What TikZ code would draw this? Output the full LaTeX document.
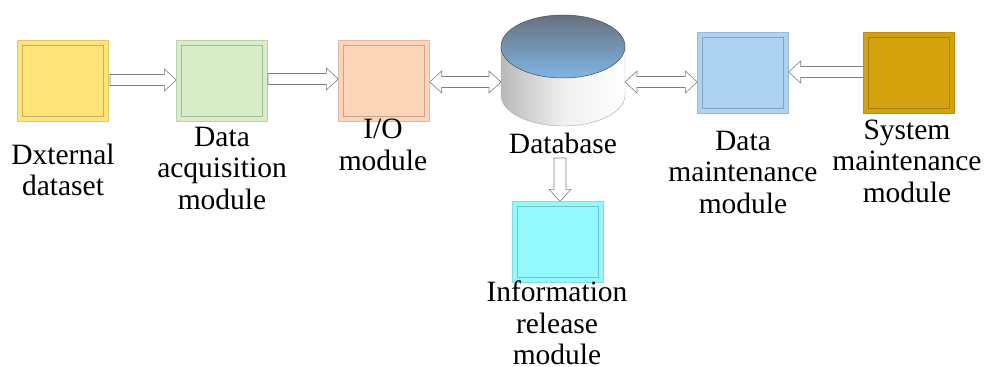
\documentclass[tikz,border=0pt]{standalone}
\usepackage{fontspec}
\setmainfont{Liberation Serif}[Ligatures=TeX]
\newfontfamily\labelfont{Liberation Serif}
\usetikzlibrary{calc}

\definecolor{cYellow}{HTML}{FFE47A}
\definecolor{cGreen}{HTML}{D6EDC8}
\definecolor{cOrange}{HTML}{FCD5B8}
\definecolor{cBlue}{HTML}{AED3F2}
\definecolor{cGold}{HTML}{D4A20C}
\definecolor{cCyan}{HTML}{94F9FC}
\definecolor{cArrow}{HTML}{7F7F7F}
\definecolor{cTopDark}{HTML}{67717E}
\definecolor{cTopLight}{HTML}{80B5E5}

\tikzset{
  modbox/.style={rectangle, minimum width=91pt, minimum height=81pt, inner sep=0pt,
    fill=#1, draw=#1!88!black, line width=0.4pt,
    path picture={\draw[#1!78!black, line width=0.45pt]
      ([shift={(5pt,-5pt)}]path picture bounding box.north west) rectangle
      ([shift={(-5pt,5pt)}]path picture bounding box.south east);}},
  lbl/.style={align=center, inner sep=0pt, font=\labelfont\fontsize{29.5}{31.5}\selectfont},
  blockarr/.style={draw=cArrow, fill=white, line width=0.6pt, line join=miter}
}

% horizontal block arrow pointing right, drawn at the height of the first point
\newcommand\rightblock[2]{%
  \draw[blockarr] let \p1=(#1), \p2=(#2) in
    (\x1,{\y1+5.5pt}) -- ({\x2-12pt},{\y1+5.5pt}) -- ({\x2-12pt},{\y1+11pt}) --
    (\x2,\y1) -- ({\x2-12pt},{\y1-11pt}) -- ({\x2-12pt},{\y1-5.5pt}) --
    (\x1,{\y1-5.5pt}) -- cycle;}
% horizontal block arrow pointing left
\newcommand\leftblock[2]{%
  \draw[blockarr] let \p1=(#1), \p2=(#2) in
    (\x1,{\y1+5.5pt}) -- ({\x2+12pt},{\y1+5.5pt}) -- ({\x2+12pt},{\y1+11pt}) --
    (\x2,\y1) -- ({\x2+12pt},{\y1-11pt}) -- ({\x2+12pt},{\y1-5.5pt}) --
    (\x1,{\y1-5.5pt}) -- cycle;}
% horizontal block arrow with heads at both ends (left to right)
\newcommand\bothblock[2]{%
  \draw[blockarr] let \p1=(#1), \p2=(#2) in
    (\x1,\y1) -- ({\x1+12pt},{\y1+11pt}) -- ({\x1+12pt},{\y1+5.5pt}) --
    ({\x2-12pt},{\y1+5.5pt}) -- ({\x2-12pt},{\y1+11pt}) -- (\x2,\y1) --
    ({\x2-12pt},{\y1-11pt}) -- ({\x2-12pt},{\y1-5.5pt}) --
    ({\x1+12pt},{\y1-5.5pt}) -- ({\x1+12pt},{\y1-11pt}) -- cycle;}
% vertical block arrow pointing down
\newcommand\downblock[2]{%
  \draw[blockarr] let \p1=(#1), \p2=(#2) in
    ({\x1-6pt},\y1) -- ({\x1-6pt},{\y2+12pt}) -- ({\x1-11pt},{\y2+12pt}) --
    (\x1,\y2) -- ({\x1+11pt},{\y2+12pt}) -- ({\x1+6pt},{\y2+12pt}) --
    ({\x1+6pt},\y1) -- cycle;}

\begin{document}
\begin{tikzpicture}[x=1pt,y=-1pt]
  \useasboundingbox (0,0) rectangle (986,367);

  % modules
  \node[modbox=cYellow] (ext)  at (63,80.5)   {};
  \node[modbox=cGreen]  (acq)  at (222,80.5)  {};
  \node[modbox=cOrange] (io)   at (384,80.5)  {};
  \node[modbox=cBlue]   (dm)   at (743,72.5)  {};
  \node[modbox=cGold]   (sm)   at (909,72.5)  {};
  \node[modbox=cCyan]   (info) at (557.5,242) {};

  % database cylinder
  \coordinate (db) at (563,70);
  \coordinate (dbW) at (501,82);
  \coordinate (dbE) at (625,82);
  \shade[left color=gray!55, right color=white, middle color=gray!12, draw=gray!70]
    (501,47) -- (501,95) arc[start angle=180, end angle=360, x radius=62pt, y radius=31pt]
    -- (625,47) -- cycle;
  \shade[top color=cTopDark, bottom color=cTopLight, draw=gray!60!black, line width=0.5pt]
    (563,46.5) ellipse[x radius=62pt, y radius=31.5pt];

  % labels
  \node[lbl] (extl)  at (63,170)   {Dxternal\\dataset};
  \node[lbl] (acql)  at (222,168)  {Data\\acquisition\\module};
  \node[lbl] (iol)   at (383,145)  {I/O\\module};
  \node[lbl] (dbl)   at (563,143)  {Database};
  \node[lbl] (dml)   at (743,172)  {Data\\maintenance\\module};
  \node[lbl] (sml)   at (907,161)  {System\\maintenance\\module};
  \node[lbl] (infol) at (557,323)  {Information\\release\\module};

  % connectors
  \coordinate (a1s) at (110,80);
  \rightblock{a1s}{acq.west |- a1s}
  \coordinate (a2s) at (268,79);
  \rightblock{a2s}{io.west |- a2s}
  \coordinate (a3s) at (430,82);
  \bothblock{io.east |- a3s}{dbW}
  \bothblock{dbE}{dm.west |- dbE}
  \coordinate (a5s) at (864,72);
  \leftblock{sm.west |- a5s}{dm.east |- a5s}
  \coordinate (a6s) at (560,158);
  \downblock{a6s}{a6s |- info.north}
\end{tikzpicture}
\end{document}
